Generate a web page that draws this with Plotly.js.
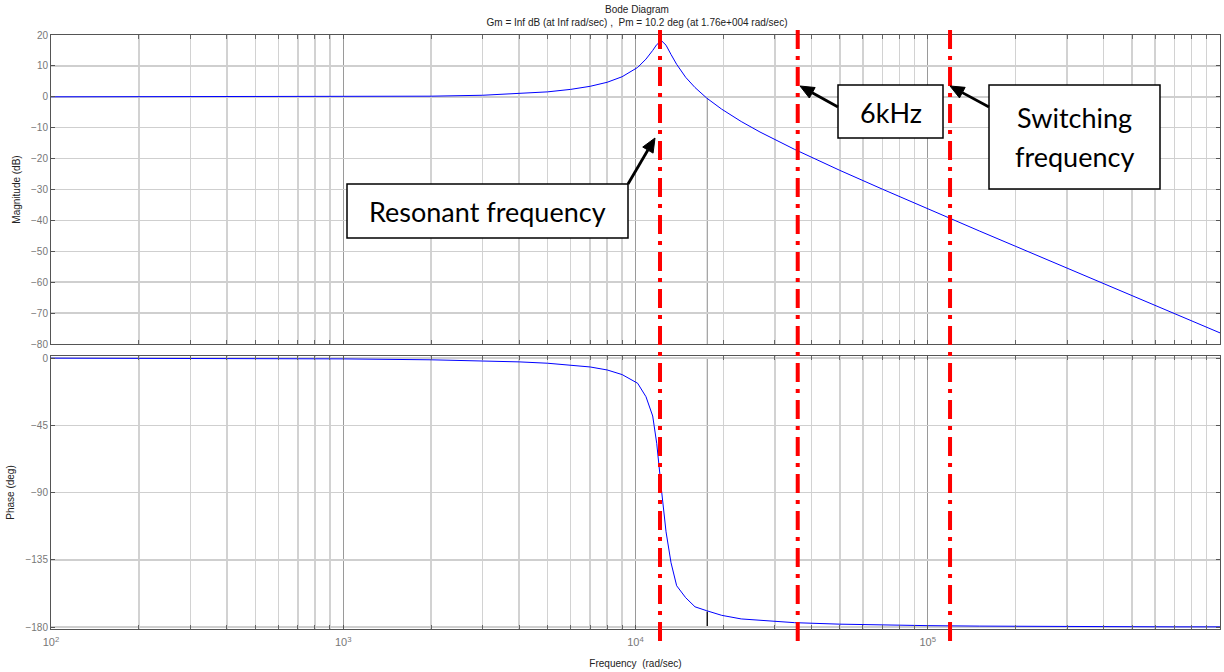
<!DOCTYPE html>
<html>
<head>
<meta charset="utf-8">
<script src="https://cdn.plot.ly/plotly-3.0.1.min.js"></script>
<style>html,body{margin:0;padding:0;background:#fff;}#chart{width:1224px;height:672px;}</style>
</head>
<body>
<div id="chart"></div>
<script>
// ---- data ----
const freq = [100, 200, 500, 1000, 2000, 3000, 4000, 5000, 6000, 7000, 8000, 9000, 10170, 10860, 11450, 11820, 12290, 12720, 13230, 13830, 14850, 15980, 17520, 19720, 23000, 26670, 35000, 50000, 70000, 100000, 150000, 200000, 300000, 500000, 700000, 1000000];
const magDb = [0, 0, 0, 0.1, 0.2, 0.5, 1.0, 1.6, 2.4, 3.4, 4.7, 6.5, 9.5, 12.2, 15.0, 16.9, 18.1, 16.7, 13.7, 10.5, 6.3, 3.0, -0.4, -4.0, -8.0, -11.4, -17.0, -23.8, -29.9, -36.3, -43.4, -48.4, -55.5, -64.4, -70.2, -76.4];
const phaseDeg = [-0.1, -0.1, -0.3, -0.6, -1.2, -1.9, -2.6, -3.5, -4.6, -6.0, -8.0, -11.1, -16.9, -25.9, -38.8, -57.1, -89.5, -116.3, -137.0, -152.4, -160.4, -166.5, -169.1, -172.2, -174.6, -175.5, -177.1, -178.1, -178.7, -179.1, -179.4, -179.6, -179.7, -179.8, -179.9, -179.9];

const markerFreqs = [12130, 35900, 119200];   // resonant, 6kHz, switching (rad/sec)
const crossoverFreq = 17600;                  // Pm crossover (rad/sec)
const crossoverPhase = -169.8;

const xMajorTicks = [100, 1000, 10000, 100000, 1000000];
const xTickText = ['10<sup>2</sup>', '10<sup>3</sup>', '10<sup>4</sup>', '10<sup>5</sup>', '10<sup>6</sup>'];
const xMinorTicks = [200,300,400,500,600,700,800,900,2000,3000,4000,5000,6000,7000,8000,9000,20000,30000,40000,50000,60000,70000,80000,90000,200000,300000,400000,500000,600000,700000,800000,900000];
const magTicks = [20, 10, 0, -10, -20, -30, -40, -50, -60, -70, -80];
const phaseTicks = [0, -45, -90, -135, -180];

const titleLines = ['Bode Diagram', 'Gm = Inf dB (at Inf rad/sec) ,  Pm = 10.2 deg (at 1.76e+004 rad/sec)'];
const calloutLines = [['Resonant frequency'], ['6kHz'], ['Switching', 'frequency']];

// ---- geometry helpers (pixel -> paper) ----
const L = 51, R = 4, T = 35, B = 43, W = 1224, H = 672;
const PW = W - L - R, PH = H - T - B;
const px = X => (X - L) / PW;
const py = Y => (H - B - Y) / PH;

const traces = [
  {x: freq, y: magDb, xaxis: 'x', yaxis: 'y', type: 'scatter', mode: 'lines',
   line: {color: '#0000ff', width: 1}, hoverinfo: 'skip'},
  {x: freq, y: phaseDeg, xaxis: 'x2', yaxis: 'y2', type: 'scatter', mode: 'lines',
   line: {color: '#0000ff', width: 1}, hoverinfo: 'skip'}
];

function xAxis(anchor, labels) {
  return {
    type: 'log', range: [2, 6], domain: [0, 1], anchor: anchor,
    tickmode: 'array', tickvals: xMajorTicks, ticktext: xTickText,
    showticklabels: labels, ticks: 'inside', ticklen: 4, tickcolor: '#555',
    showline: true, linecolor: '#555', linewidth: 1, mirror: 'ticks',
    showgrid: true, gridcolor: '#9a9a9a', gridwidth: 1, zeroline: false,
    tickfont: {family: 'Liberation Sans, Arial, sans-serif', size: 11, color: '#777'},
    minor: {tickmode: 'array', tickvals: xMinorTicks, showgrid: true, gridcolor: '#d2d2d2', gridwidth: 1.5,
            ticks: 'inside', ticklen: 4, tickcolor: '#666'}
  };
}

const shapes = [];
// MATLAB margin lines
shapes.push({type: 'line', xref: 'paper', yref: 'y', x0: 0, x1: 1, y0: 0, y1: 0, line: {color: '#000', width: 1}, layer: 'below'});
shapes.push({type: 'line', xref: 'x', yref: 'y', x0: crossoverFreq, x1: crossoverFreq, y0: 0, y1: -80, line: {color: '#8a8a8a', width: 1}, layer: 'below'});
shapes.push({type: 'line', xref: 'paper', yref: 'y2', x0: 0, x1: 1, y0: -180, y1: -180, line: {color: '#000', width: 1}, layer: 'below'});
shapes.push({type: 'line', xref: 'x2', yref: 'y2', x0: crossoverFreq, x1: crossoverFreq, y0: 0, y1: -180, line: {color: '#8a8a8a', width: 1}, layer: 'below'});
shapes.push({type: 'line', xref: 'x2', yref: 'y2', x0: crossoverFreq, x1: crossoverFreq, y0: crossoverPhase, y1: -180, line: {color: '#000', width: 1.2}, layer: 'below'});
// red dash-dot marker lines
markerFreqs.forEach(f => shapes.push({type: 'line', xref: 'x', yref: 'paper', x0: f, x1: f, y0: py(641), y1: py(27),
  line: {color: '#ff0000', width: 4, dash: '19px,7px,4px,7px'}}));
// callout boxes
const boxes = [[347, 184, 628, 238], [838, 85, 943, 138], [989, 85, 1160, 189]];
boxes.forEach(b => shapes.push({type: 'rect', xref: 'paper', yref: 'paper', x0: px(b[0]), x1: px(b[2]), y0: py(b[3]), y1: py(b[1]),
  line: {color: '#000', width: 1.5}, fillcolor: '#ffffff'}));
// arrows: [tipX, tipY, tailX, tailY] in pixels
const arrows = [[655, 138, 628, 184], [800, 86, 838, 107], [950, 86, 989, 107]];
arrows.forEach(a => {
  const dx = a[0] - a[2], dy = a[1] - a[3], len = Math.hypot(dx, dy);
  const ux = dx / len, uy = dy / len, hl = 14, hw = 12;
  const bx = a[0] - ux * hl, by = a[1] - uy * hl;
  const nx = -uy * hw / 2, ny = ux * hw / 2;
  shapes.push({type: 'line', xref: 'paper', yref: 'paper', x0: px(a[2]), y0: py(a[3]), x1: px(bx), y1: py(by),
    line: {color: '#000', width: 2.8}});
  shapes.push({type: 'path', xref: 'paper', yref: 'paper',
    path: 'M ' + px(a[0]) + ' ' + py(a[1]) + ' L ' + px(bx + nx) + ' ' + py(by + ny) + ' L ' + px(bx - nx) + ' ' + py(by - ny) + ' Z',
    fillcolor: '#000', line: {color: '#000', width: 1}});
});

const annotations = [];
const textPos = [[[487.5, 211]], [[890.5, 113]], [[1074.5, 117], [1074.5, 156]]];
calloutLines.forEach((lines, i) => lines.forEach((t, j) => annotations.push({xref: 'paper', yref: 'paper',
  x: px(textPos[i][j][0]), y: py(textPos[i][j][1]),
  xanchor: 'center', yanchor: 'middle', text: t, showarrow: false,
  font: {family: 'Lato, Carlito, Calibri, sans-serif', size: 27, color: '#000'}})));

const layout = {
  width: W, height: H, margin: {l: L, r: R, t: T, b: B},
  paper_bgcolor: '#fff', plot_bgcolor: '#fff', showlegend: false,
  font: {family: 'Liberation Sans, Arial, sans-serif', size: 10, color: '#555'},
  title: {text: titleLines.join('<br>'), xref: 'container', x: 637 / W, xanchor: 'center',
          yref: 'container', y: 1 - 13 / H, yanchor: 'middle',
          font: {family: 'Liberation Sans, Arial, sans-serif', size: 10, color: '#222'}},
  xaxis: xAxis('y', false),
  xaxis2: Object.assign(xAxis('y2', true), {ticklabelstandoff: 3,
    title: {text: 'Frequency  (rad/sec)', font: {size: 10, color: '#222'}, standoff: 12}}),
  yaxis: {domain: [py(344), 1], range: [-80, 20], anchor: 'x', tickmode: 'array', tickvals: magTicks,
          ticks: 'inside', ticklen: 4, tickcolor: '#555', showline: true, linecolor: '#555', mirror: 'ticks',
          showgrid: true, gridcolor: '#cfcfcf', gridwidth: 1.5, zeroline: false,
          tickfont: {size: 10, color: '#777'},
          title: {text: 'Magnitude (dB)', font: {size: 10, color: '#222'}, standoff: 8}},
  yaxis2: {domain: [0, py(356)], range: [-181.34, 1.34], anchor: 'x2', tickmode: 'array', tickvals: phaseTicks,
           ticks: 'inside', ticklen: 4, tickcolor: '#555', showline: true, linecolor: '#555', mirror: 'ticks',
           showgrid: true, gridcolor: '#cfcfcf', gridwidth: 1.5, zeroline: false,
           tickfont: {size: 10, color: '#777'},
           title: {text: 'Phase (deg)', font: {size: 10, color: '#222'}, standoff: 8}},
  shapes: shapes, annotations: annotations
};

Plotly.newPlot('chart', traces, layout, {staticPlot: true, displayModeBar: false});
</script>
</body>
</html>
